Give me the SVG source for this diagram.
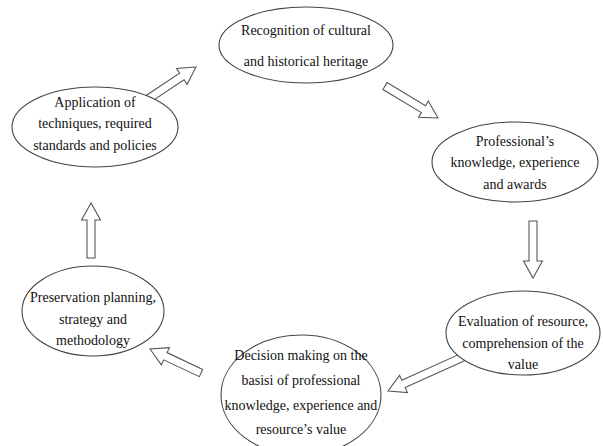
<svg xmlns="http://www.w3.org/2000/svg" width="603" height="446" viewBox="0 0 603 446">
<style>
.node ellipse{fill:#fff;stroke:#444;stroke-width:1.1}
.node text{font-family:"Liberation Serif","Times New Roman",serif;font-size:14px;fill:#111;text-anchor:middle}
.arr polygon{fill:#fff;stroke:#555;stroke-width:1.1;stroke-linejoin:miter}
</style>
<defs>
<polygon id="ah" points="0,-4 -17,-4 -17,-9.5 0,0 -17,9.5 -17,4"/>
</defs>
<rect width="603" height="446" fill="#fff"/>
<g id="connectors" class="arr">
<polygon transform="translate(196,67) rotate(-33.7)" points="0,0 -17,-9.5 -17,-4 -57.7,-4 -57.7,4 -17,4 -17,9.5"/>
<polygon transform="translate(438,118) rotate(31.1)" points="0,0 -17,-9.5 -17,-4 -61.9,-4 -61.9,4 -17,4 -17,9.5"/>
<polygon transform="translate(533,278) rotate(90)" points="0,0 -17,-9.5 -17,-4 -57,-4 -57,4 -17,4 -17,9.5"/>
<polygon transform="translate(388,391) rotate(155.6)" points="0,0 -17,-9.5 -17,-4 -82.3,-4 -82.3,4 -17,4 -17,9.5"/>
<polygon transform="translate(150,349) rotate(205.2)" points="0,0 -17,-9.5 -17,-4 -56.4,-4 -56.4,4 -17,4 -17,9.5"/>
<polygon transform="translate(91,203) rotate(-90)" points="0,0 -17,-9.5 -17,-4 -55,-4 -55,4 -17,4 -17,9.5"/>
</g>
<g id="n1" class="node">
<ellipse cx="306" cy="45" rx="87" ry="38"/>
<text x="306" y="35">Recognition of cultural</text>
<text x="306" y="66">and historical heritage</text>
</g>
<g id="n2" class="node">
<ellipse cx="515" cy="162" rx="83" ry="40"/>
<text x="515" y="146">Professional’s</text>
<text x="515" y="167">knowledge, experience</text>
<text x="515" y="189">and awards</text>
</g>
<g id="n3" class="node">
<ellipse cx="523" cy="333" rx="77" ry="42"/>
<text x="523" y="326">Evaluation of resource,</text>
<text x="523" y="348">comprehension of the</text>
<text x="523" y="369">value</text>
</g>
<g id="n4" class="node">
<ellipse cx="301" cy="395" rx="80" ry="60"/>
<text x="301" y="360">Decision making on the</text>
<text x="301" y="385">basisi of professional</text>
<text x="301" y="410">knowledge, experience and</text>
<text x="301" y="434">resource’s value</text>
</g>
<g id="n5" class="node">
<ellipse cx="93" cy="311" rx="71" ry="45"/>
<text x="93" y="302">Preservation planning,</text>
<text x="93" y="324">strategy and</text>
<text x="93" y="345">methodology</text>
</g>
<g id="n6" class="node">
<ellipse cx="95" cy="127" rx="83" ry="40"/>
<text x="95" y="107">Application of</text>
<text x="95" y="128">techniques, required</text>
<text x="95" y="150">standards and policies</text>
</g>
</svg>
